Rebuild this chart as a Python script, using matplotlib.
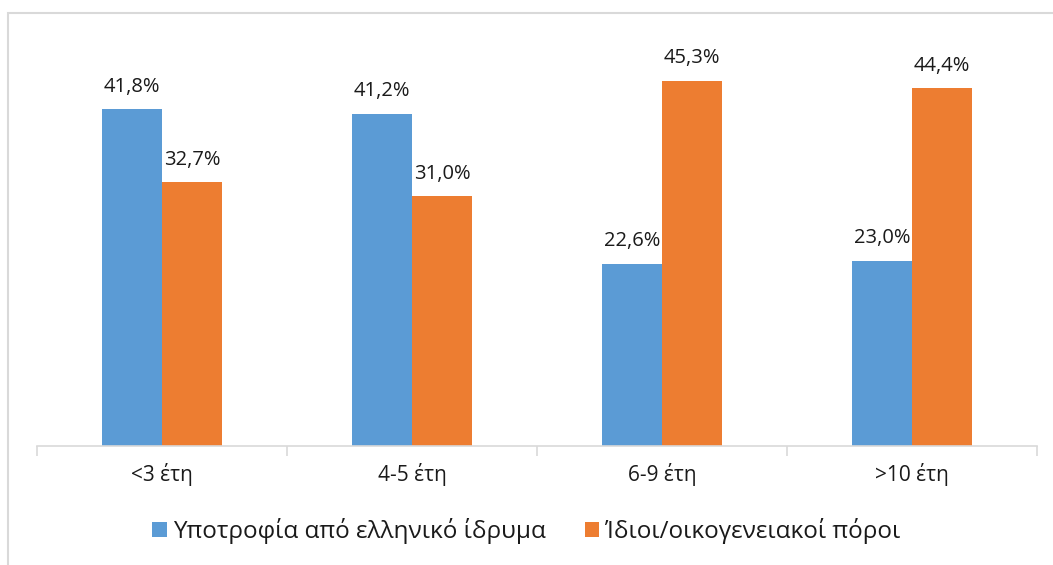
import matplotlib
matplotlib.use("Agg")
import matplotlib.pyplot as plt
from matplotlib.patches import Rectangle
import numpy as np

categories = ["<3 έτη", "4-5 έτη", "6-9 έτη", ">10 έτη"]
series_names = ["Υποτροφία από ελληνικό ίδρυμα", "Ίδιοι/οικογενειακοί πόροι"]
scholarship = [41.8, 41.2, 22.6, 23.0]
own_funds = [32.7, 31.0, 45.3, 44.4]
colors = ["#5B9BD5", "#ED7D31"]

plt.rcParams['font.family'] = ['Open Sans', 'DejaVu Sans']

W, H = 1053, 565
fig = plt.figure(figsize=(W / 100, H / 100), dpi=100)
ax = fig.add_axes([37 / W, (H - 446) / H, 1000 / W, 403 / H])

x = np.arange(len(categories))
bw = 0.24
b1 = ax.bar(x - bw / 2, scholarship, bw, color=colors[0], label=series_names[0])
b2 = ax.bar(x + bw / 2, own_funds, bw, color=colors[1], label=series_names[1])

for bars, vals in ((b1, scholarship), (b2, own_funds)):
    for r, v in zip(bars, vals):
        ax.annotate(f"{v:.1f}%".replace(".", ","),
                    (r.get_x() + r.get_width() / 2, v),
                    xytext=(0, 9), textcoords="offset points",
                    ha="center", va="bottom", fontsize=14.5, color="#1a1a1a")

ax.set_xlim(-0.5, len(categories) - 0.5)
ax.set_ylim(0, 50)
ax.set_yticks([])
for s in ("top", "right", "left"):
    ax.spines[s].set_visible(False)
ax.spines["bottom"].set_color("#d9d9d9")
ax.spines["bottom"].set_linewidth(1.2)
ax.set_xticks(np.arange(len(categories) + 1) - 0.5, minor=True)
ax.tick_params(axis="x", which="minor", length=7, color="#d9d9d9", width=1.2)
ax.set_xticks(x)
ax.set_xticklabels(categories, fontsize=15, color="#1a1a1a")
ax.tick_params(axis="x", which="major", length=0, pad=12)

leg = fig.legend(handles=[b1, b2], labels=series_names, loc="center",
                 bbox_to_anchor=(0.5, (H - 531) / H), ncol=2, frameon=False,
                 fontsize=17.5, handlelength=0.6, handleheight=0.6,
                 handletextpad=0.25, columnspacing=1.6,
                 labelcolor="#1a1a1a")

fig.patches.append(Rectangle((8 / W, -0.1), 1.2, (H - 13) / H + 0.1,
                             transform=fig.transFigure, fill=False,
                             edgecolor="#d9d9d9", linewidth=1.5))

fig.savefig("out.png", dpi=100)
